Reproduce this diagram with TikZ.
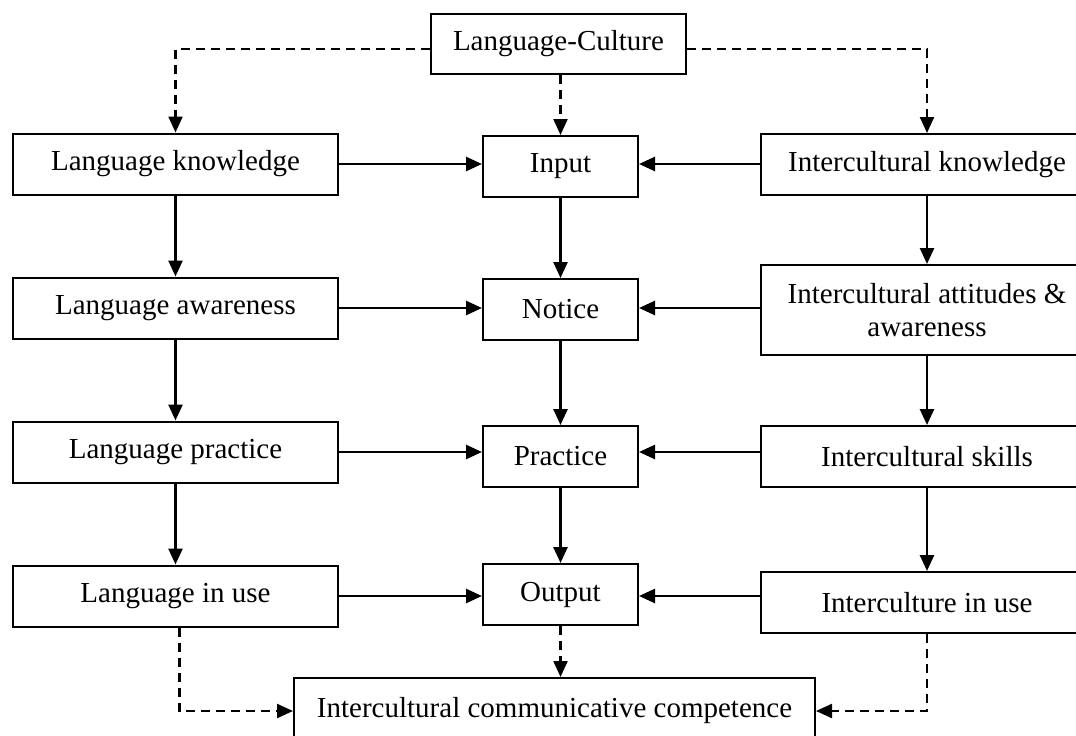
\documentclass[tikz,border=0pt]{standalone}
\usepackage{fontspec}
\setmainfont{Liberation Serif}
\usetikzlibrary{arrows.meta, positioning}

\begin{document}
\begin{tikzpicture}[x=1pt, y=1pt, >={Triangle[length=16pt,width=14pt]}, node distance=144pt,
            block/.style={draw, line width=2pt, rectangle, align=center, inner sep=0pt,
                          minimum height=61pt, font=\fontsize{29}{33}\selectfont},
            langbox/.style={block, minimum width=325pt},
            midbox/.style={block, minimum width=155pt},
            culbox/.style={block, minimum width=332pt},
            flow/.style={->, line width=2.6pt},
            dotflow/.style={->, line width=2.3pt, dash pattern=on 9pt off 6pt}]

            \useasboundingbox (0,0) rectangle (1076,-736);
            \clip (0,0) rectangle (1076,-736);

            % Ligne du haut
            \node[block, minimum width=255pt, minimum height=60pt] (lc) at (558.5,-44) {Language-Culture};
            \node[langbox] (lk) at (175.5,-164) {Language knowledge};
            \node[midbox] (in) at (560.5,-166.5) {Input};
            \node[culbox] (ik) at (927,-164.5) {Intercultural knowledge};

            % Colonnes placées les unes sous les autres
            \node[langbox, below of=lk] (la) {Language awareness};
            \node[langbox, below of=la] (lp) {Language practice};
            \node[langbox, below of=lp] (lu) {Language in use};

            \node[midbox, below of=in, yshift=1pt] (no) {Notice};
            \node[midbox, below of=no, yshift=-3pt] (pr) {Practice};
            \node[midbox, below of=pr, yshift=6pt] (ou) {Output};

            \node[culbox, below of=ik, yshift=-1.5pt, minimum height=90pt] (ia) {Intercultural attitudes \&\\ awareness};
            \node[culbox, below of=ia, yshift=-2.5pt] (is) {Intercultural skills};
            \node[culbox, below of=is, yshift=-2pt] (iu) {Interculture in use};

            \node[block, minimum width=521pt, minimum height=66pt] (icc) at (554.5,-711) {Intercultural communicative competence};

            % Flèches horizontales vers la colonne du milieu
            \foreach \l/\m/\r in {lk/in/ik, la/no/ia, lp/pr/is, lu/ou/iu} {
                \draw[flow] (\l.east) -- (\l.east -| \m.west);
                \draw[flow] (\r.west |- \l.east) -- (\l.east -| \m.east);
            }

            % Flèches verticales
            \foreach \a/\b in {lk/la, la/lp, lp/lu, in/no, no/pr, pr/ou, ik/ia, ia/is, is/iu}
                \draw[flow] (\a.south) -- (\b.north);

            % Liens en pointillés
            \draw[dotflow] ([yshift=-5pt]lc.west) -| (lk.north);
            \draw[dotflow] ([yshift=-5pt]lc.east) -| (ik.north);
            \draw[dotflow] (lc.south -| in) -- (in.north);
            \draw[dotflow] ([xshift=4pt]lu.south) |- (icc.west);
            \draw[dotflow] (iu.south) |- (icc.east);
            \draw[dotflow] (ou.south) -- (icc.north -| ou);

        \end{tikzpicture}
\end{document}
